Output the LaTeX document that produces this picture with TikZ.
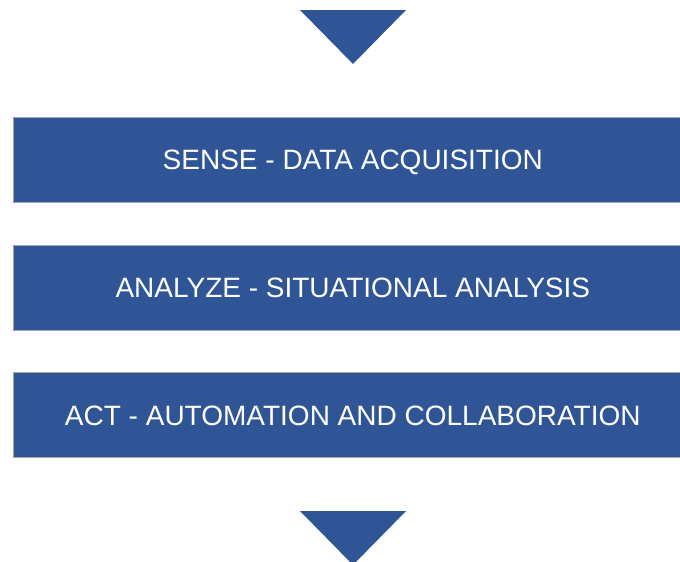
\documentclass[tikz,border=0pt]{standalone}
\usepackage{fontspec}
\setmainfont{Liberation Sans}
\definecolor{stepblue}{RGB}{47,85,151}
\tikzset{
  stagebox/.style={fill=stepblue, draw=gray!70, line width=0.6pt, minimum width=680pt, minimum height=85pt, text=white, font=\fontsize{28}{32}\selectfont, inner sep=0pt, text height=20pt, text depth=0pt},
  flowtip/.style={fill=stepblue}
}
\begin{document}
\begin{tikzpicture}[x=1pt,y=-1pt]
\useasboundingbox (0,0) rectangle (680,562);
\clip (0,0) rectangle (680,562);
\fill [flowtip] (300,10) -- (406,10) -- (353,64) -- cycle;
\node [stagebox] (sense) at (352.8,159.5) {SENSE - DATA ACQUISITION};
\node [stagebox] (analyze) at (352.8,287.5) {ANALYZE - SITUATIONAL ANALYSIS};
\node [stagebox] (act) at (352.8,415) {ACT - AUTOMATION AND COLLABORATION};
\fill [flowtip] (300,511) -- (406,511) -- (353,565) -- cycle;
\end{tikzpicture}
\end{document}
